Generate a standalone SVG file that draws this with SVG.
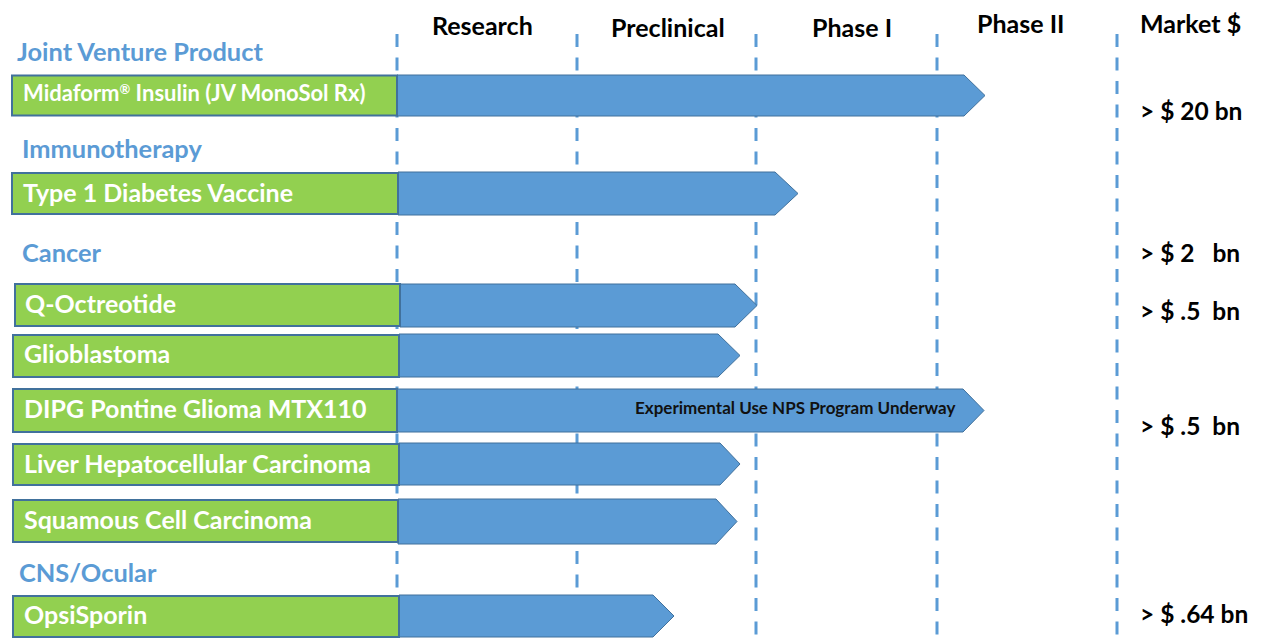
<svg xmlns="http://www.w3.org/2000/svg" width="1262" height="639" viewBox="0 0 1262 639">
<style>
.bg{fill:#ffffff}
.grid{stroke:#5B9BD5;stroke-width:3;stroke-dasharray:13 10.5;fill:none}
.box{fill:#92D050;stroke:#41719C;stroke-width:2}
.arrow{fill:#5B9BD5;stroke:#41719C;stroke-width:1}
.lbl{font-family:Lato,"Liberation Sans",sans-serif;font-weight:bold;fill:#ffffff;font-size:25px}
.cat{font-family:Lato,"Liberation Sans",sans-serif;font-weight:bold;fill:#5B9BD5;font-size:25.4px}
.hdr{font-family:Lato,"Liberation Sans",sans-serif;font-weight:bold;fill:#000000;font-size:25px}
.mkt{font-family:Lato,"Liberation Sans",sans-serif;font-weight:bold;fill:#000000;font-size:24.5px;white-space:pre}
.note{font-family:Lato,"Liberation Sans",sans-serif;font-weight:bold;fill:#111111;font-size:17px}
</style>
<rect class="bg" x="0" y="0" width="1262" height="639"/>
<g id="grid">
<line class="grid" x1="397" y1="34" x2="397" y2="639"/>
<line class="grid" x1="577" y1="34" x2="577" y2="639"/>
<line class="grid" x1="756" y1="34" x2="756" y2="639"/>
<line class="grid" x1="937" y1="34" x2="937" y2="639"/>
<line class="grid" x1="1117" y1="34" x2="1117" y2="639"/>
</g>
<g id="headers">
<text class="hdr" x="432" y="35">Research</text>
<text class="hdr" x="611" y="37">Preclinical</text>
<text class="hdr" x="812" y="37">Phase I</text>
<text class="hdr" x="977" y="33">Phase II</text>
<text class="hdr" x="1140" y="33">Market $</text>
</g>
<g id="categories">
<text class="cat" x="17" y="61">Joint Venture Product</text>
<text class="cat" x="22" y="158">Immunotherapy</text>
<text class="cat" x="22" y="262">Cancer</text>
<text class="cat" x="19" y="582">CNS/Ocular</text>
</g>
<g id="connectors">
<polygon class="arrow" points="397,75 964,75 985,95.5 964,116 397,116"/>
<polygon class="arrow" points="398,172 775,172 798,193.5 775,215 398,215"/>
<polygon class="arrow" points="400,284 735,284 757,305.5 735,327 400,327"/>
<polygon class="arrow" points="399,334 718,334 740,355.5 718,377 399,377"/>
<polygon class="arrow" points="397,389 963,389 984,410.5 963,432 397,432"/>
<polygon class="arrow" points="399,443 720,443 740,464 720,485 399,485"/>
<polygon class="arrow" points="398,499 716,499 737,521.5 716,544 398,544"/>
<polygon class="arrow" points="399,595 653,595 674,616 653,637 399,637"/>
</g>
<g id="n-midaform">
<rect class="box" x="12" y="75.5" width="385" height="40"/>
<text class="lbl" x="23" y="101" style="font-size:22px">Midaform<tspan style="font-size:13px" dy="-7">®</tspan><tspan dy="7"> Insulin (JV MonoSol Rx)</tspan></text>
</g>
<g id="n-type1">
<rect class="box" x="12" y="173" width="386" height="41"/>
<text class="lbl" x="23" y="202">Type 1 Diabetes Vaccine</text>
</g>
<g id="n-qoct">
<rect class="box" x="15" y="284" width="385" height="42"/>
<text class="lbl" x="25" y="313">Q-Octreotide</text>
</g>
<g id="n-glio">
<rect class="box" x="13" y="335" width="386" height="42"/>
<text class="lbl" x="24" y="363">Glioblastoma</text>
</g>
<g id="n-dipg">
<rect class="box" x="13" y="389" width="384" height="43"/>
<text class="lbl" x="24" y="418">DIPG Pontine Glioma MTX110</text>
<text class="note" x="635" y="414">Experimental Use NPS Program Underway</text>
</g>
<g id="n-liver">
<rect class="box" x="13" y="444" width="386" height="41"/>
<text class="lbl" x="24" y="473">Liver Hepatocellular Carcinoma</text>
</g>
<g id="n-squamous">
<rect class="box" x="13" y="500" width="385" height="42"/>
<text class="lbl" x="24" y="529">Squamous Cell Carcinoma</text>
</g>
<g id="n-opsi">
<rect class="box" x="13" y="596" width="386" height="41"/>
<text class="lbl" x="24" y="624">OpsiSporin</text>
</g>
<g id="market">
<text class="mkt" x="1140" y="120">&gt; $ 20 bn</text>
<text class="mkt" x="1140" y="262">&gt; $ 2   bn</text>
<text class="mkt" x="1140" y="320">&gt; $ .5  bn</text>
<text class="mkt" x="1140" y="435">&gt; $ .5  bn</text>
<text class="mkt" x="1140" y="623">&gt; $ .64 bn</text>
</g>
</svg>
